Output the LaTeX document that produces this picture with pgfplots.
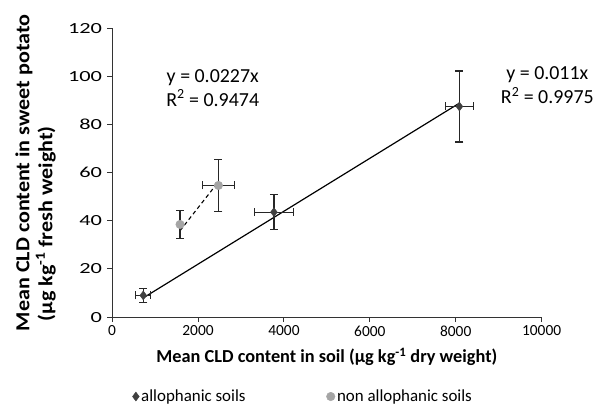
\documentclass[border=0pt]{standalone}
\usepackage{fontspec}
\setmainfont{Carlito}
\usepackage{pgfplots}
\pgfplotsset{compat=1.18}
\definecolor{allo}{RGB}{64,64,64}
\definecolor{nonallo}{RGB}{165,165,165}

\begin{document}
\begin{tikzpicture}
\begin{axis}[
    at={(0,0)}, anchor=south west,
    scale only axis,
    width=430bp, height=289.2bp,
    xmin=0, xmax=10000,
    ymin=0, ymax=120,
    axis lines*=left,
    axis line style={line width=1.2pt, black!80},
    xtick={0,2000,...,10000},
    ytick={0,20,...,120},
    tick align=outside,
    major tick length=5bp,
    tick style={line width=1pt, black!80},
    scaled ticks=false,
    /pgf/number format/1000 sep={},
    /pgf/number format/assume math mode=true,
    ticklabel style={font=\fontsize{15.5}{17}\selectfont},
    yticklabel style={xscale=1.45},
    xlabel={\textbf{Mean CLD content in soil (µg kg\textsuperscript{-1} dry weight)}},
    xlabel style={font=\fontsize{18.4}{20}\selectfont, yshift=-5bp},
    ylabel={\scalebox{1.11}[1]{\textbf{Mean CLD content in sweet potato}}\\\hspace{10bp}\scalebox{1.11}[1]{\textbf{(µg kg\textsuperscript{-1} fresh weight)}}},
    ylabel style={font=\fontsize{20}{23}\selectfont, align=left, yshift=4bp},
    legend columns=2,
    legend style={draw=none, fill=none, at={(0.04,-0.275)}, anchor=west,
        font=\fontsize{17}{19}\selectfont,
        /tikz/every even column/.append style={column sep=79bp}},
    legend cell align=left,
    clip=false,
]
% trend lines
\addplot[forget plot, black, line width=1.2pt] coordinates {(725,7.98) (8086,88.9)};
\addplot[forget plot, black, line width=1.1pt, dashed, dash pattern=on 4bp off 3bp] coordinates {(1581,35.9) (2474,56.2)};
% data with error bars
\addplot[only marks, mark=diamond*, mark size=4.5bp, mark options={fill=allo, draw=allo},
    error bars/.cd, x dir=both, x explicit, y dir=both, y explicit,
    error bar style={line width=1.3pt, black!85},
    error mark options={rotate=90, line width=1.3pt, black!85, mark size=4bp}]
    coordinates {
    (725,9.0) +- (175,2.8)
    (3767,43.6) +- (455,7.3)
    (8086,87.5) +- (320,14.8)
};
\addlegendentry{allophanic soils}
\addplot[only marks, mark=*, mark size=4.3bp, mark options={fill=nonallo, draw=nonallo},
    error bars/.cd, x dir=both, x explicit, y dir=both, y explicit,
    error bar style={line width=1.3pt, black!85},
    error mark options={rotate=90, line width=1.3pt, black!85, mark size=4bp}]
    coordinates {
    (1581,38.5) +- (0,5.8)
    (2474,54.7) +- (370,10.7)
};
\addlegendentry{non allophanic soils}
\node[font=\fontsize{20}{24}\selectfont, align=center] at (axis cs:2342,95.2) {y = 0.0227x\\R\textsuperscript{2} = 0.9474};
\node[font=\fontsize{20}{24}\selectfont, align=center] at (axis cs:10133,96.3) {y = 0.011x\\R\textsuperscript{2} = 0.9975};
\end{axis}
\path[use as bounding box] (-112.3bp,-87.5bp) rectangle (484.7bp,317.5bp);
\end{tikzpicture}
\end{document}
